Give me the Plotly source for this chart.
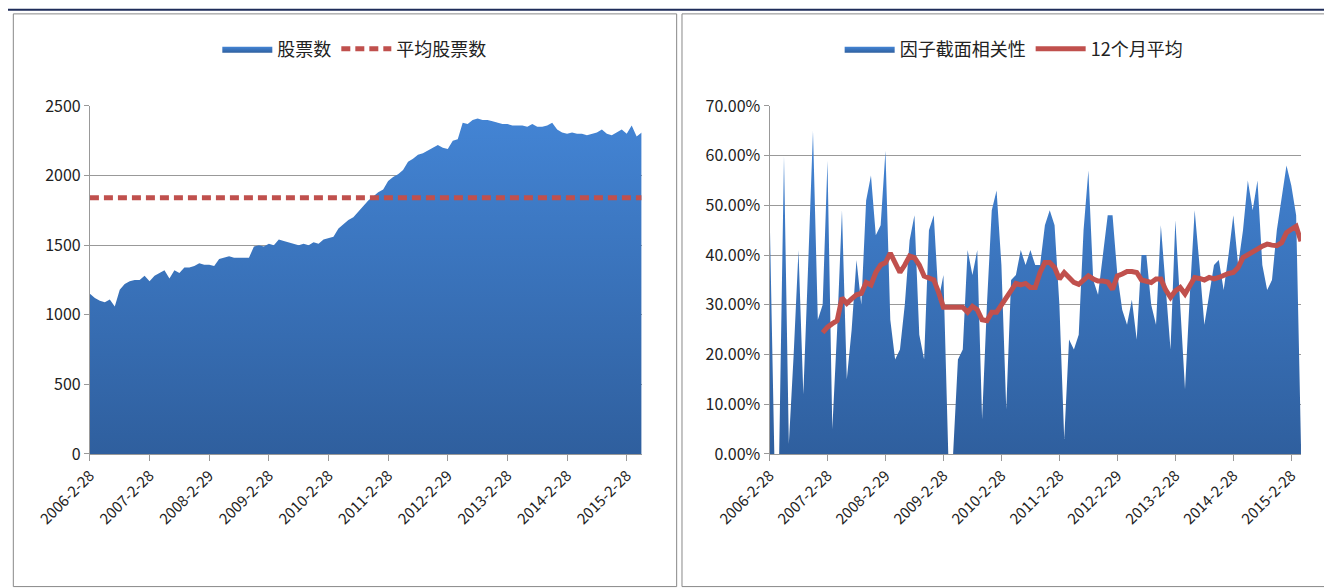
import pandas as pd
import plotly.graph_objects as go

# monthly dates, 2006-02 .. 2015-05
dates = pd.date_range("2006-02-28", periods=112, freq="ME")
date_labels = [f"{d.year}-{d.month}-{d.day}" for d in dates]
tick_labels = ["2006-2-28", "2007-2-28", "2008-2-29", "2009-2-28", "2010-2-28",
               "2011-2-28", "2012-2-29", "2013-2-28", "2014-2-28", "2015-2-28"]

stock_count = [
    1150, 1120, 1100, 1090, 1110, 1060, 1180, 1220, 1240, 1250, 1250,
    1280, 1240, 1280, 1300, 1320, 1260, 1320, 1300, 1340, 1340, 1350, 1370,
    1360, 1360, 1350, 1400, 1410, 1420, 1410, 1410, 1410, 1410, 1490, 1500,
    1490, 1510, 1500, 1540, 1530, 1520, 1510, 1500, 1510, 1500, 1520, 1510,
    1540, 1550, 1560, 1620, 1650, 1680, 1700, 1740, 1780, 1820, 1850, 1880,
    1900, 1960, 1990, 2010, 2040, 2100, 2120, 2150, 2160, 2180, 2200, 2220,
    2200, 2190, 2250, 2260, 2380, 2370, 2400, 2410, 2400, 2400, 2390, 2380,
    2370, 2370, 2360, 2360, 2360, 2350, 2370, 2350, 2350, 2360, 2380, 2330,
    2310, 2300, 2310, 2300, 2300, 2290, 2300, 2310, 2330, 2300, 2290, 2310,
    2330, 2300, 2360, 2280, 2310,
]
avg_count = [1840] * len(stock_count)

factor_corr = [
    50, 0, 0, 60, 2, 20, 41, 12, 38, 65, 27, 30, 59, 5, 25, 49, 15, 25, 39, 30,
    51, 56, 44, 46, 61, 27, 19, 21, 30, 43, 48, 24, 19, 45, 48, 31, 36, 0, 0, 19,
    21, 41, 36, 41, 7, 30, 49, 53, 38, 9, 35, 36, 41, 38, 41, 38, 38, 46, 49, 46,
    30, 3, 23, 21, 24, 45, 57, 35, 32, 40, 48, 48, 36, 29, 26, 31, 23, 40, 40, 30,
    26, 46, 33, 21, 47, 31, 13, 32, 49, 38, 26, 32, 38, 39, 33, 40, 48, 38, 45, 55,
    49, 55, 38, 33, 35, 45, 52, 58, 54, 48, 2,
]
avg_12m = [
    24.4, 25.5, 26.2, 26.8, 31.4, 30.3, 31.2, 32, 32.3, 34.5, 34.0, 36.5, 38, 38.5,
    40.4, 38.5, 36.5, 38, 39.8, 39.5, 38, 35.8, 35.5, 35, 32.5, 29.5, 29.5, 29.5,
    29.5, 29.5, 28.5, 29.7, 29, 27, 26.8, 28.5, 28.5, 30, 31.5, 33, 34.3, 34, 34.3,
    33.5, 33.5, 36.5, 38.5, 38.5, 37.5, 35.2, 36.5, 35.5, 34.5, 34.1, 35, 35.8,
    35.2, 34.8, 34.8, 34.6, 33.1, 35.8, 36.2, 36.7, 36.7, 36.5, 35, 34.8, 34.5,
    35.2, 35.2, 33, 31.5, 32.8, 33.5, 32.2, 34, 35.5, 35.3, 35, 35.5, 35.2, 35.5,
    36, 36.3, 36.5, 37.5, 39.5, 40, 40.5, 41.2, 41.8, 42.2, 42, 41.9, 42.5, 44.5,
    45.2, 45.8, 42.8,
]

left_x = date_labels
right_x = date_labels[:len(factor_corr)]
avg_x = right_x[11:]

BLUE_GRAD = dict(type="vertical", colorscale=[[0, "#2f5f9e"], [1, "#4384d4"]])
CJK = "Noto Sans CJK SC"

fig = go.Figure()
fig.add_trace(go.Scatter(x=left_x, y=stock_count, name="股票数", mode="lines",
                         line=dict(width=0, color="#3a72bb"), fill="tozeroy",
                         fillgradient=BLUE_GRAD, xaxis="x", yaxis="y", legend="legend"))
fig.add_trace(go.Scatter(x=left_x, y=avg_count, name="平均股票数", mode="lines",
                         line=dict(width=5, color="#c0504d", dash="9px,5px"),
                         xaxis="x", yaxis="y", legend="legend"))
fig.add_trace(go.Scatter(x=right_x, y=[v / 100 for v in factor_corr], name="因子截面相关性",
                         mode="lines", line=dict(width=0, color="#3a72bb"), fill="tozeroy",
                         fillgradient=BLUE_GRAD, xaxis="x2", yaxis="y2", legend="legend2"))
fig.add_trace(go.Scatter(x=avg_x, y=[v / 100 for v in avg_12m], name="12个月平均", mode="lines",
                         line=dict(width=5, color="#c0504d"),
                         xaxis="x2", yaxis="y2", legend="legend2"))

ax_common = dict(type="category", tickangle=-45, showgrid=False, ticks="outside",
                 ticklen=6, tickcolor="#999", showline=True, linecolor="#999",
                 automargin=False, tickfont=dict(size=15, color="#222"))
y_common = dict(showgrid=True, gridcolor="#999", gridwidth=1, zeroline=False,
                showline=True, linecolor="#999", ticks="outside", ticklen=5,
                automargin=False, tickcolor="#999", tickfont=dict(size=16, color="#222"))
ydom = [0.2416, 0.8334]

fig.update_layout(
    width=1332, height=588, margin=dict(l=0, r=0, t=0, b=0, autoexpand=False),
    paper_bgcolor="white", plot_bgcolor="white",
    font=dict(family=CJK, color="#222"),
    xaxis=dict(ax_common, domain=[0.0615, 0.4757], range=[0, 111],
               tickvals=tick_labels, ticktext=tick_labels),
    yaxis=dict(y_common, domain=ydom, range=[0, 2500], dtick=500),
    xaxis2=dict(ax_common, domain=[0.5717, 0.9707], range=[0, 110],
                tickvals=tick_labels, ticktext=tick_labels, anchor="y2"),
    yaxis2=dict(y_common, domain=ydom, range=[0, 0.7], dtick=0.1,
                tickformat=".2%", anchor="x2"),
    legend=dict(orientation="h", x=0.26, xanchor="center", y=0.93, yanchor="middle",
                font=dict(size=18, family=CJK), itemwidth=50),
    legend2=dict(orientation="h", x=0.755, xanchor="center", y=0.93, yanchor="middle",
                 font=dict(size=18, family=CJK), itemwidth=50),
    shapes=[
        dict(type="rect", xref="paper", yref="paper", x0=0.004, x1=0.502, y0=0.016, y1=0.99,
             line=dict(color="#888", width=1)),
        dict(type="rect", xref="paper", yref="paper", x0=0.506, x1=0.994, y0=0.016, y1=0.99,
             line=dict(color="#888", width=1)),
        dict(type="line", xref="paper", yref="paper", x0=0, x1=1, y0=0.997, y1=0.997,
             line=dict(color="#1f2d5a", width=2)),
    ],
)

fig.write_html("out.html")
